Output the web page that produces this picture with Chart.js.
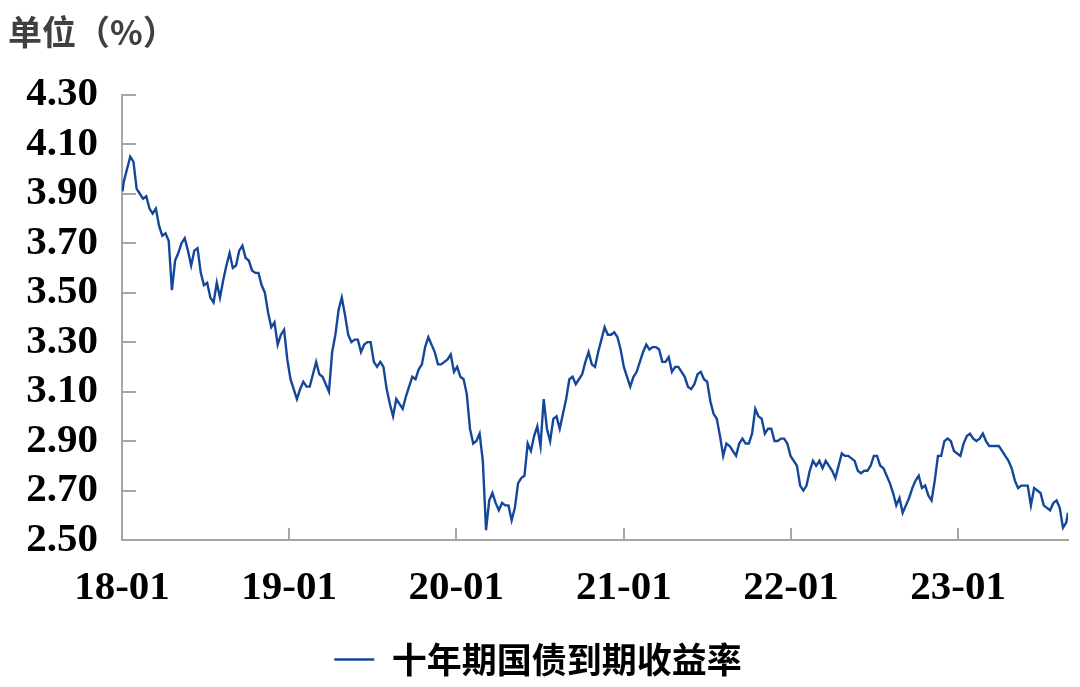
<!DOCTYPE html>
<html>
<head>
<meta charset="utf-8">
<script src="https://cdn.jsdelivr.net/npm/chart.js@4.4.0/dist/chart.umd.min.js"></script>
<style>
  html, body { margin: 0; padding: 0; background: #fff; }
</style>
</head>
<body>
<canvas id="yieldChart" width="1080" height="687"></canvas>
<script>
// weekly closes (Fridays)
var dates = [
  '2018-01-02','2018-01-05','2018-01-12','2018-01-19','2018-01-26','2018-02-02','2018-02-09','2018-02-16','2018-02-23','2018-03-02','2018-03-09','2018-03-16','2018-03-23','2018-03-30','2018-04-06','2018-04-13','2018-04-20','2018-04-27','2018-05-04','2018-05-11','2018-05-18','2018-05-25','2018-06-01','2018-06-08','2018-06-15','2018-06-22','2018-06-29','2018-07-06','2018-07-13','2018-07-20','2018-07-27','2018-08-03','2018-08-10','2018-08-17','2018-08-24','2018-08-31','2018-09-07','2018-09-14','2018-09-21','2018-09-28','2018-10-05','2018-10-12','2018-10-19','2018-10-26','2018-11-02','2018-11-09','2018-11-16','2018-11-23','2018-11-30','2018-12-07','2018-12-14','2018-12-21','2018-12-28',
  '2019-01-04','2019-01-11','2019-01-18','2019-01-25','2019-02-01','2019-02-08','2019-02-15','2019-02-22','2019-03-01','2019-03-08','2019-03-15','2019-03-22','2019-03-29','2019-04-05','2019-04-12','2019-04-19','2019-04-26','2019-05-03','2019-05-10','2019-05-17','2019-05-24','2019-05-31','2019-06-07','2019-06-14','2019-06-21','2019-06-28','2019-07-05','2019-07-12','2019-07-19','2019-07-26','2019-08-02','2019-08-09','2019-08-16','2019-08-23','2019-08-30','2019-09-06','2019-09-13','2019-09-20','2019-09-27','2019-10-04','2019-10-11','2019-10-18','2019-10-25','2019-11-01','2019-11-08','2019-11-15','2019-11-22','2019-11-29','2019-12-06','2019-12-13','2019-12-20','2019-12-27',
  '2020-01-03','2020-01-10','2020-01-17','2020-01-24','2020-01-31','2020-02-07','2020-02-14','2020-02-21','2020-02-28','2020-03-06','2020-03-13','2020-03-20','2020-03-27','2020-04-03','2020-04-10','2020-04-17','2020-04-24','2020-05-01','2020-05-08','2020-05-15','2020-05-22','2020-05-29','2020-06-05','2020-06-12','2020-06-19','2020-06-26','2020-07-03','2020-07-10','2020-07-17','2020-07-24','2020-07-31','2020-08-07','2020-08-14','2020-08-21','2020-08-28','2020-09-04','2020-09-11','2020-09-18','2020-09-25','2020-10-02','2020-10-09','2020-10-16','2020-10-23','2020-10-30','2020-11-06','2020-11-13','2020-11-20','2020-11-27','2020-12-04','2020-12-11','2020-12-18','2020-12-25',
  '2021-01-01','2021-01-08','2021-01-15','2021-01-22','2021-01-29','2021-02-05','2021-02-12','2021-02-19','2021-02-26','2021-03-05','2021-03-12','2021-03-19','2021-03-26','2021-04-02','2021-04-09','2021-04-16','2021-04-23','2021-04-30','2021-05-07','2021-05-14','2021-05-21','2021-05-28','2021-06-04','2021-06-11','2021-06-18','2021-06-25','2021-07-02','2021-07-09','2021-07-16','2021-07-23','2021-07-30','2021-08-06','2021-08-13','2021-08-20','2021-08-27','2021-09-03','2021-09-10','2021-09-17','2021-09-24','2021-10-01','2021-10-08','2021-10-15','2021-10-22','2021-10-29','2021-11-05','2021-11-12','2021-11-19','2021-11-26','2021-12-03','2021-12-10','2021-12-17','2021-12-24','2021-12-31',
  '2022-01-07','2022-01-14','2022-01-21','2022-01-28','2022-02-04','2022-02-11','2022-02-18','2022-02-25','2022-03-04','2022-03-11','2022-03-18','2022-03-25','2022-04-01','2022-04-08','2022-04-15','2022-04-22','2022-04-29','2022-05-06','2022-05-13','2022-05-20','2022-05-27','2022-06-03','2022-06-10','2022-06-17','2022-06-24','2022-07-01','2022-07-08','2022-07-15','2022-07-22','2022-07-29','2022-08-05','2022-08-12','2022-08-19','2022-08-26','2022-09-02','2022-09-09','2022-09-16','2022-09-23','2022-09-30','2022-10-07','2022-10-14','2022-10-21','2022-10-28','2022-11-04','2022-11-11','2022-11-18','2022-11-25','2022-12-02','2022-12-09','2022-12-16','2022-12-23','2022-12-30',
  '2023-01-06','2023-01-13','2023-01-20','2023-01-27','2023-02-03','2023-02-10','2023-02-17','2023-02-24','2023-03-03','2023-03-10','2023-03-17','2023-03-24','2023-03-31','2023-04-07','2023-04-14','2023-04-21','2023-04-28','2023-05-05','2023-05-12','2023-05-19','2023-05-26','2023-06-02','2023-06-09','2023-06-16','2023-06-23','2023-06-30','2023-07-07','2023-07-14','2023-07-21','2023-07-28','2023-08-04','2023-08-11','2023-08-18','2023-08-25','2023-08-29'
];
var yields = [
  3.91, 3.95, 4.00, 4.05, 4.03, 3.92, 3.90, 3.88, 3.89, 3.84, 3.82, 3.84, 3.77, 3.73, 3.74, 3.71, 3.51, 3.63, 3.66, 3.70, 3.72, 3.67, 3.61, 3.67, 3.68, 3.58, 3.53, 3.54, 3.48, 3.46, 3.54, 3.48, 3.55, 3.61, 3.66, 3.60, 3.61, 3.67, 3.69, 3.64, 3.63, 3.59, 3.58, 3.58, 3.53, 3.50, 3.42, 3.36, 3.38, 3.29, 3.33, 3.35, 3.23,
  3.15, 3.11, 3.07, 3.11, 3.14, 3.12, 3.12, 3.17, 3.22, 3.17, 3.16, 3.13, 3.10, 3.26, 3.33, 3.43, 3.48, 3.41, 3.33, 3.30, 3.31, 3.31, 3.26, 3.29, 3.30, 3.30, 3.22, 3.20, 3.22, 3.20, 3.11, 3.05, 3.00, 3.07, 3.05, 3.03, 3.08, 3.12, 3.16, 3.15, 3.19, 3.21, 3.28, 3.32, 3.29, 3.26, 3.21, 3.21, 3.22, 3.23, 3.25, 3.18,
  3.20, 3.16, 3.15, 3.09, 2.95, 2.89, 2.90, 2.93, 2.82, 2.54, 2.66, 2.69, 2.65, 2.62, 2.65, 2.64, 2.64, 2.58, 2.63, 2.73, 2.75, 2.76, 2.89, 2.86, 2.92, 2.96, 2.88, 3.07, 2.95, 2.90, 2.99, 3.00, 2.95, 3.01, 3.07, 3.15, 3.16, 3.13, 3.15, 3.17, 3.22, 3.26, 3.21, 3.20, 3.26, 3.31, 3.36, 3.33, 3.33, 3.34, 3.32, 3.27,
  3.20, 3.16, 3.12, 3.16, 3.18, 3.22, 3.26, 3.29, 3.27, 3.28, 3.28, 3.27, 3.22, 3.22, 3.24, 3.18, 3.20, 3.20, 3.18, 3.16, 3.12, 3.11, 3.13, 3.17, 3.18, 3.15, 3.14, 3.06, 3.01, 2.99, 2.92, 2.84, 2.89, 2.88, 2.86, 2.84, 2.89, 2.91, 2.89, 2.89, 2.93, 3.03, 3.00, 2.99, 2.93, 2.95, 2.95, 2.90, 2.90, 2.91, 2.91, 2.89, 2.84,
  2.82, 2.80, 2.72, 2.70, 2.72, 2.78, 2.82, 2.80, 2.82, 2.79, 2.82, 2.80, 2.78, 2.75, 2.80, 2.85, 2.84, 2.84, 2.83, 2.82, 2.78, 2.77, 2.78, 2.78, 2.80, 2.84, 2.84, 2.80, 2.79, 2.76, 2.73, 2.69, 2.64, 2.67, 2.61, 2.64, 2.67, 2.71, 2.74, 2.76, 2.71, 2.72, 2.68, 2.66, 2.74, 2.84, 2.84, 2.90, 2.91, 2.90, 2.86, 2.85,
  2.84, 2.89, 2.92, 2.93, 2.91, 2.90, 2.91, 2.93, 2.90, 2.88, 2.88, 2.88, 2.88, 2.86, 2.84, 2.82, 2.79, 2.74, 2.71, 2.72, 2.72, 2.72, 2.64, 2.71, 2.70, 2.69, 2.64, 2.63, 2.62, 2.65, 2.66, 2.63, 2.55, 2.57, 2.61
];
var tickDates = ['2018-01-01', '2019-01-01', '2020-01-01', '2021-01-01', '2022-01-01', '2023-01-01'];
var tickLabels = ['18-01', '19-01', '20-01', '21-01', '22-01', '23-01'];
var seriesName = '十年期国债到期收益率';
var unitText = '单位（%）';

var lineColor = '#14479A';
var axisColor = '#A6A6A6';
var serifBold = { family: "'Liberation Serif', 'Times New Roman', serif", size: 41, weight: 'bold' };
var cjkBold = "'Noto Sans CJK SC', 'Noto Sans', sans-serif";

// days since 2018-01-01
function dayNum(s) {
  var p = s.split('-');
  return (Date.UTC(+p[0], +p[1] - 1, +p[2]) - Date.UTC(2018, 0, 1)) / 86400000;
}

var points = dates.map(function(d, i) { return { x: dayNum(d), y: yields[i] }; });
var tickDays = tickDates.map(dayNum);

// tick marks pointing into the plot, like the original
var inwardTicks = {
  id: 'inwardTicks',
  beforeDatasetsDraw: function(chart) {
    var c = chart.ctx, xs = chart.scales.x, ys = chart.scales.y, area = chart.chartArea;
    c.save();
    c.strokeStyle = axisColor;
    c.lineWidth = 2;
    c.beginPath();
    ys.ticks.forEach(function(t) {
      var y = Math.round(ys.getPixelForValue(t.value));
      c.moveTo(area.left, y);
      c.lineTo(area.left + 14, y);
    });
    xs.ticks.forEach(function(t) {
      var x = Math.round(xs.getPixelForValue(t.value));
      c.moveTo(x, area.bottom);
      c.lineTo(x, area.bottom - 12);
    });
    c.stroke();
    c.restore();
  }
};

window.onload = function() {
  var ctx = document.getElementById('yieldChart').getContext('2d');
  window.yieldChart = new Chart(ctx, {
    type: 'line',
    data: {
      datasets: [{
        label: seriesName,
        data: points,
        borderColor: lineColor,
        backgroundColor: lineColor,
        borderWidth: 2.4,
        pointRadius: 0,
        tension: 0
      }]
    },
    plugins: [inwardTicks],
    options: {
      responsive: false,
      animation: false,
      layout: { padding: { left: 8, right: 12, top: 0, bottom: 0 } },
      plugins: {
        title: {
          display: true,
          text: unitText,
          align: 'start',
          color: '#404040',
          font: { family: cjkBold, size: 34, weight: 'bold' },
          padding: { top: 12, bottom: 42 }
        },
        legend: {
          position: 'bottom',
          labels: {
            usePointStyle: true,
            pointStyle: 'line',
            pointStyleWidth: 40,
            color: '#000',
            padding: 10,
            font: { family: cjkBold, size: 35, weight: 'bold' }
          }
        },
        tooltip: { enabled: false }
      },
      scales: {
        x: {
          type: 'linear',
          min: 0,
          max: dayNum(dates[dates.length - 1]),
          afterBuildTicks: function(scale) {
            scale.ticks = tickDays.map(function(v) { return { value: v }; });
          },
          afterFit: function(scale) { scale.height = 92; },
          grid: { drawOnChartArea: false, drawTicks: false },
          border: { color: axisColor, width: 2 },
          ticks: {
            autoSkip: false,
            maxRotation: 0,
            padding: 24,
            color: '#000',
            font: serifBold,
            callback: function(value, index) { return tickLabels[index]; }
          }
        },
        y: {
          min: 2.5,
          max: 4.3,
          afterFit: function(scale) { scale.width = 114; },
          grid: { drawOnChartArea: false, drawTicks: false },
          border: { color: axisColor, width: 2 },
          ticks: {
            stepSize: 0.2,
            autoSkip: false,
            padding: 24,
            color: '#000',
            font: serifBold,
            callback: function(value) { return value.toFixed(2); }
          }
        }
      }
    }
  });
};
</script>
</body>
</html>
